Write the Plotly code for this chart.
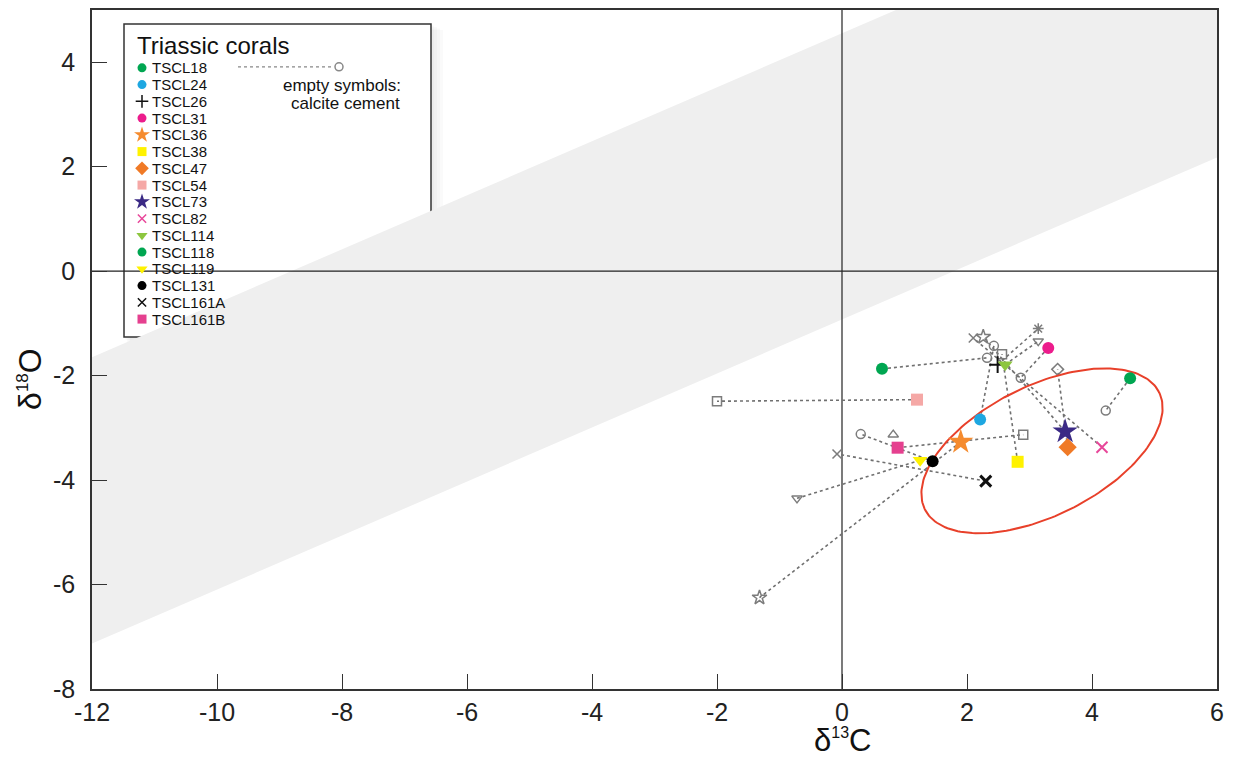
import numpy as np
import plotly.graph_objects as go

# ---------------- data ----------------
samples = ["TSCL18", "TSCL24", "TSCL26", "TSCL31", "TSCL36", "TSCL38", "TSCL47", "TSCL54",
           "TSCL73", "TSCL82", "TSCL114", "TSCL118", "TSCL119", "TSCL131", "TSCL161A", "TSCL161B"]
coral_d13c = [0.64, 2.21, 2.49, 3.30, 1.90, 2.81, 3.61, 1.20,
              3.57, 4.16, 2.61, 4.61, 1.25, 1.45, 2.30, 0.89]
coral_d18o = [-1.87, -2.84, -1.79, -1.47, -3.27, -3.65, -3.37, -2.46,
              -3.07, -3.37, -1.79, -2.05, -3.62, -3.64, -4.02, -3.38]
cement_d13c = [2.32, 2.43, 3.14, 2.86, -1.32, 2.56, 3.45, -2.00,
               2.26, 2.10, 3.14, 4.22, -0.72, 0.30, -0.08, 2.90]
cement_d18o = [-1.66, -1.43, -1.10, -2.04, -6.25, -1.59, -1.88, -2.49,
               -1.26, -1.28, -1.34, -2.67, -4.35, -3.12, -3.50, -3.13]
# unconnected cement point
extra_cement_d13c = [0.82]
extra_cement_d18o = [-3.13]

colors = ["#00a651", "#1ea7e1", "#111111", "#ec1c8c", "#f58b2e", "#fff200", "#f07a26", "#f5a8a6",
          "#3b2a85", "#e8479a", "#8dc63f", "#00a651", "#fff200", "#000000", "#111111", "#e5408f"]
symbols = ["circle", "circle", "cross-thin", "circle", "star", "square", "diamond", "square",
           "star", "x-thin", "triangle-down", "circle", "triangle-down", "circle", "x-thin", "square"]
cement_symbols = ["circle-open", "circle-open", "asterisk-open", "circle-open", "star-open", "square-open",
                  "diamond-open", "square-open", "star-open", "x-thin-open", "triangle-down-open",
                  "circle-open", "triangle-down-open", "circle-open", "x-thin-open", "square-open"]
extra_cement_symbol = "triangle-up-open"

x_ticks = [-12, -10, -8, -6, -4, -2, 0, 2, 4, 6]
x_ticktext = ["-12", "-10", "-8", "-6", "-4", "-2", "0", "2", "4", "6"]
y_ticks = [-8, -6, -4, -2, 0, 2, 4]
y_ticktext = ["-8", "-6", "-4", "-2", "0", "2", "4"]

# gray band edges: y = intercept + slope*(x+12)
band_slope = 0.517
band_low_intercept = -7.13
band_high_intercept = -1.65

# ellipse (center in data units, axes in screen px, angle deg)
ell_cx, ell_cy = 3.2, -3.44
ell_a_px, ell_b_px, ell_angle = 131, 65, 26.7

# ---------------- layout constants ----------------
W, H = 1235, 760
L, R, T, B = 92, 1217, 8, 689
XR = [-12, 6]
YR = [-8, 5]
px_per_x = (R - L) / (XR[1] - XR[0])
px_per_y = (B - T) / (YR[1] - YR[0])
FONT = "Liberation Sans, Arial"


def pxx(px):
    return (px - L) / (R - L)


def pxy(py):
    return (B - py) / (B - T)


fig = go.Figure()

# connecting dotted lines
lx, ly = [], []
for a, b, c, d in zip(coral_d13c, coral_d18o, cement_d13c, cement_d18o):
    lx += [a, c, None]
    ly += [b, d, None]
fig.add_trace(go.Scatter(x=lx, y=ly, mode="lines",
                         line=dict(color="#707070", width=1.6, dash="dot"),
                         hoverinfo="skip", showlegend=False))

# cement markers
gray = "#7c7c7c"
for sx, sy, sym in zip(cement_d13c, cement_d18o, cement_symbols):
    fig.add_trace(go.Scatter(x=[sx], y=[sy], mode="markers",
                             marker=dict(symbol=sym, size=9 if "star" not in sym else 11,
                                         color=gray, line=dict(color=gray, width=1.5)),
                             showlegend=False))
fig.add_trace(go.Scatter(x=extra_cement_d13c, y=extra_cement_d18o, mode="markers",
                         marker=dict(symbol=extra_cement_symbol, size=9, color=gray,
                                     line=dict(color=gray, width=1.5)),
                         showlegend=False))

# ellipse
t = np.linspace(0, 2 * np.pi, 200)
th = np.radians(ell_angle)
dxp = ell_a_px * np.cos(t) * np.cos(th) - ell_b_px * np.sin(t) * np.sin(th)
dyp = ell_a_px * np.cos(t) * np.sin(th) + ell_b_px * np.sin(t) * np.cos(th)
fig.add_trace(go.Scatter(x=ell_cx + dxp / px_per_x, y=ell_cy + dyp / px_per_y, mode="lines",
                         line=dict(color="#e8402a", width=2), hoverinfo="skip", showlegend=False))


def marker_style(sym, col, legend=False):
    k = 0.75 if legend else 1.0
    if sym == "star":
        return dict(symbol=sym, size=(12 if legend else 19), color=col, line=dict(width=0))
    if sym == "x-thin":
        w = 3 if col in ("#111111", "#000000") and not legend else (1.5 if legend else 2)
        return dict(symbol=sym, size=11 * k, color=col, line=dict(color=col, width=w))
    if sym == "cross-thin":
        return dict(symbol=sym, size=12 * k, color=col, line=dict(color=col, width=1.5 if legend else 2))
    if sym == "diamond":
        return dict(symbol=sym, size=14 * k, color=col, line=dict(width=0))
    if sym == "triangle-down":
        return dict(symbol=sym, size=13 * k, color=col, line=dict(width=0))
    return dict(symbol=sym, size=12 * k, color=col, line=dict(width=0))


# coral markers
for name, sx, sy, col, sym in zip(samples, coral_d13c, coral_d18o, colors, symbols):
    fig.add_trace(go.Scatter(x=[sx], y=[sy], mode="markers", name=name,
                             marker=marker_style(sym, col), showlegend=False))

# ---------------- custom legend ----------------
leg_left, leg_top, leg_right, leg_bottom = 124, 22, 431, 336
entry_y0, entry_step = 66, 16.8
marker_px, text_px = 142, 150

shapes = []
x0, x1 = XR
shapes.append(dict(type="path", xref="x", yref="y", layer="below", line=dict(width=0),
                   fillcolor="#efefef",
                   path=f"M {x0} {band_low_intercept} L {x1} {band_low_intercept + band_slope*(x1-x0)} "
                        f"L {x1} {band_high_intercept + band_slope*(x1-x0)} L {x0} {band_high_intercept} Z"))
shapes.append(dict(type="line", xref="x", yref="y", layer="below", x0=0, x1=0, y0=YR[0], y1=YR[1],
                   line=dict(color="#222222", width=1.2)))
shapes.append(dict(type="line", xref="x", yref="y", layer="below", x0=XR[0], x1=XR[1], y0=0, y1=0,
                   line=dict(color="#222222", width=1.2)))
# soft legend shadow
for off in [12, 9, 6, 3]:
    shapes.append(dict(type="rect", xref="paper", yref="paper", layer="below",
                       x0=pxx(leg_left + off / 2), x1=pxx(leg_right + off),
                       y0=pxy(leg_bottom + off), y1=pxy(leg_top + off / 2),
                       line=dict(width=0), fillcolor="rgba(0,0,0,0.02)"))
shapes.append(dict(type="rect", xref="paper", yref="paper", layer="below",
                   x0=pxx(leg_left), x1=pxx(leg_right), y0=pxy(leg_bottom), y1=pxy(leg_top),
                   line=dict(color="#333333", width=1.5), fillcolor="white"))
shapes.append(dict(type="line", xref="paper", yref="paper", layer="above",
                   x0=pxx(238), x1=pxx(334), y0=pxy(65), y1=pxy(65),
                   line=dict(color="#888888", width=1.2, dash="dot")))

annotations = []
annotations.append(dict(xref="paper", yref="paper", x=pxx(135), y=pxy(44), xanchor="left", yanchor="middle",
                        text="Triassic corals", showarrow=False,
                        font=dict(family=FONT, size=24, color="#111111")))
for i, (name, col, sym) in enumerate(zip(samples, colors, symbols)):
    yy = entry_y0 + i * entry_step
    fig.add_trace(go.Scatter(x=[pxx(marker_px)], y=[pxy(yy)], xaxis="x2", yaxis="y2", mode="markers",
                             marker=marker_style(sym, col, legend=True), showlegend=False, hoverinfo="skip"))
    annotations.append(dict(xref="paper", yref="paper", x=pxx(text_px), y=pxy(yy), xanchor="left",
                            yanchor="middle", text=name, showarrow=False,
                            font=dict(family=FONT, size=15, color="#111111")))
fig.add_trace(go.Scatter(x=[pxx(339)], y=[pxy(65)], xaxis="x2", yaxis="y2", mode="markers",
                         marker=dict(symbol="circle-open", size=8, color="#888888",
                                     line=dict(color="#888888", width=1.5)),
                         showlegend=False, hoverinfo="skip"))
annotations.append(dict(xref="paper", yref="paper", x=pxx(342), y=pxy(84), xanchor="center", yanchor="middle",
                        text="empty symbols:", showarrow=False,
                        font=dict(family=FONT, size=17, color="#111111")))
annotations.append(dict(xref="paper", yref="paper", x=pxx(345), y=pxy(102), xanchor="center", yanchor="middle",
                        text="calcite cement", showarrow=False,
                        font=dict(family=FONT, size=17, color="#111111")))

# axis titles
annotations.append(dict(xref="paper", yref="paper", x=pxx(842), y=pxy(760), xanchor="center", yanchor="bottom",
                        text="δ<sup><span style='font-size:16px'>13</span></sup>C", showarrow=False,
                        font=dict(family=FONT, size=31, color="#111111")))
annotations.append(dict(xref="paper", yref="paper", x=pxx(30), y=pxy(378), xanchor="center", yanchor="middle",
                        text="δ<sup><span style='font-size:17px'>18</span></sup>O", showarrow=False,
                        textangle=-90,
                        font=dict(family=FONT, size=32, color="#111111")))

axis_common = dict(showgrid=False, zeroline=False, showline=True, mirror=True,
                   linecolor="#333333", linewidth=1.5, ticks="inside", ticklen=15,
                   tickcolor="#333333", tickwidth=1.2,
                   tickfont=dict(family=FONT, size=25, color="#222222"))

fig.update_layout(
    width=W, height=H,
    margin=dict(l=L, r=W - R, t=T, b=H - B),
    paper_bgcolor="white", plot_bgcolor="white",
    showlegend=False,
    xaxis=dict(range=XR, tickvals=x_ticks, ticktext=x_ticktext, ticklabelstandoff=0, **axis_common),
    yaxis=dict(range=YR, tickvals=y_ticks, ticktext=y_ticktext, ticklabelstandoff=10, **axis_common),
    xaxis2=dict(overlaying="x", range=[0, 1], visible=False, fixedrange=True),
    yaxis2=dict(overlaying="y", range=[0, 1], visible=False, fixedrange=True),
    shapes=shapes,
    annotations=annotations,
)

fig.write_html("out.html")
